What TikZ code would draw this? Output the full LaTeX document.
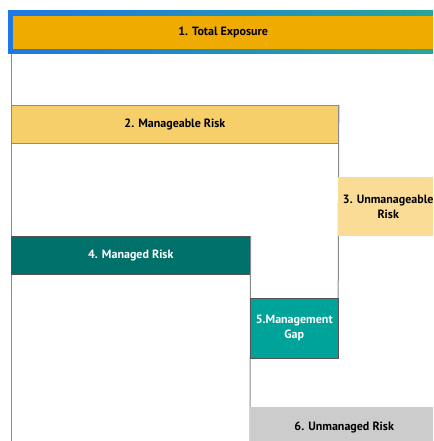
\documentclass[tikz,border=0pt]{standalone}
\usepackage{fontspec}
\setmainfont{PT Sans}
\definecolor{borderL}{HTML}{1E78E6}
\definecolor{borderR}{HTML}{26A69A}
\definecolor{cTot}{HTML}{F0AB00}
\definecolor{cMan}{HTML}{F6CE6A}
\definecolor{cUnm}{HTML}{FADC96}
\definecolor{cMgd}{HTML}{00706A}
\definecolor{cGap}{HTML}{00A39A}
\definecolor{cUnd}{HTML}{CCCCCC}
\definecolor{cLine}{HTML}{8A8A8A}
\tikzset{
  box/.style={inner sep=0pt, anchor=north west, align=center, font=\bfseries\fontsize{12}{15}\selectfont, text=black},
  rule/.style={draw=cLine, line width=1pt},
}
\newcommand{\lowtext}[1]{\raisebox{-1.5pt}{#1}}
\begin{document}
\begin{tikzpicture}[x=1pt,y=-1pt]
\useasboundingbox (0,0) rectangle (433,441);
\begin{scope}
\clip (0,0) rectangle (433,441);
% bracket lines
\coordinate (l1top) at (11,54);
\coordinate (l1bot) at (11,441);
\coordinate (l2bot) at (338,358);
\coordinate (l4bot) at (250,441);
\draw[rule] (l1top) -- (l1bot);
% box 2
\node[box, fill=cMan, draw=cLine, line width=0.8pt, minimum width=327pt, minimum height=38pt] (man) at (11,105) {\lowtext{2. Manageable Risk}};
\draw[rule] (man.north east) -- (l2bot);
% box 3
\node[box, fill=cUnm, minimum width=100pt, minimum height=59pt] (unm) at (338,177) {3. Unmanageable\\Risk};
% box 4
\node[box, fill=cMgd, draw=cLine!60!black, line width=0.6pt, minimum width=239pt, minimum height=38pt, text=white] (mgd) at (11,236) {\lowtext{4. Managed Risk}};
\draw[rule] (mgd.north east) -- (l4bot);
% box 5
\node[box, fill=cGap, draw=cLine!60!black, line width=0.6pt, minimum width=88pt, minimum height=60pt, text=white] (gap) at (250,298) {5.Management\\Gap};
% box 6
\node[box, fill=cUnd, minimum width=188pt, minimum height=40pt] (und) at (250,407) {\lowtext{6. Unmanaged Risk}};
% box 1
\shade[left color=borderL, right color=borderR] (8,11) rectangle (438,54);
\node[box, fill=cTot, minimum width=420pt, minimum height=33pt] (tot) at (13,16) {\lowtext{1. Total Exposure}};
\end{scope}
\end{tikzpicture}
\end{document}
